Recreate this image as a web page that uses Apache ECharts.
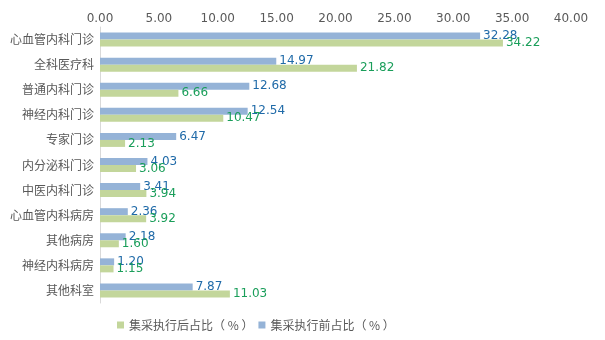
<!DOCTYPE html>
<html>
<head>
<meta charset="utf-8">
<script src="https://cdn.jsdelivr.net/npm/echarts@6/dist/echarts.min.js"></script>
<style>
  html, body { margin: 0; padding: 0; background: #fff; }
  #chart { width: 605px; height: 340px; }
</style>
</head>
<body>
<div id="chart"></div>
<script>
// Departments, listed top to bottom
const categories = ['心血管内科门诊', '全科医疗科', '普通内科门诊', '神经内科门诊', '专家门诊', '内分泌科门诊', '中医内科门诊', '心血管内科病房', '其他病房', '神经内科病房', '其他科室'];
// Share after centralized procurement (%)
const afterShare = [34.22, 21.82, 6.66, 10.47, 2.13, 3.06, 3.94, 3.92, 1.60, 1.15, 11.03];
// Share before centralized procurement (%)
const beforeShare = [32.28, 14.97, 12.68, 12.54, 6.47, 4.03, 3.41, 2.36, 2.18, 1.20, 7.87];
const afterName = '集采执行后占比（ % ）';
const beforeName = '集采执行前占比（ % ）';

const font = '"DejaVu Sans", "Noto Sans CJK SC", sans-serif';
const cjkFont = '"Noto Sans CJK SC", sans-serif';
const chart = echarts.init(document.getElementById('chart'));
chart.setOption({
  animation: false,
  textStyle: { fontFamily: font },
  grid: { left: 100, right: 34, top: 27, bottom: 37 },
  legend: {
    bottom: 4,
    left: 112,
    itemWidth: 7,
    itemHeight: 7,
    itemGap: 5,
    icon: 'rect',
    textStyle: { color: '#595959', fontSize: 12, fontFamily: cjkFont },
    data: [afterName, beforeName]
  },
  xAxis: {
    type: 'value',
    position: 'top',
    min: 0,
    max: 40,
    interval: 5,
    axisLine: { show: false },
    axisTick: { show: false },
    splitLine: { show: false },
    axisLabel: {
      color: '#595959',
      fontSize: 12,
      fontFamily: font,
      margin: 2,
      formatter: v => v.toFixed(2)
    }
  },
  yAxis: {
    type: 'category',
    inverse: true,
    data: categories,
    axisLine: { show: true, lineStyle: { color: '#d9d9d9' } },
    axisTick: { show: false },
    axisLabel: { color: '#595959', fontSize: 12, fontFamily: cjkFont, margin: 6 }
  },
  series: [
    {
      name: beforeName,
      type: 'bar',
      data: beforeShare,
      barWidth: 7,
      barGap: '0%',
      itemStyle: { color: '#95b3d7' },
      label: {
        show: true,
        position: 'right',
        distance: 3,
        color: '#1f6aa8',
        fontSize: 12,
        fontFamily: font,
        formatter: p => p.value.toFixed(2)
      }
    },
    {
      name: afterName,
      type: 'bar',
      data: afterShare,
      barWidth: 7,
      barGap: '0%',
      itemStyle: { color: '#c3d69b' },
      label: {
        show: true,
        position: 'right',
        distance: 3,
        color: '#1a9e5a',
        fontSize: 12,
        fontFamily: font,
        formatter: p => p.value.toFixed(2)
      }
    }
  ]
});
</script>
</body>
</html>
